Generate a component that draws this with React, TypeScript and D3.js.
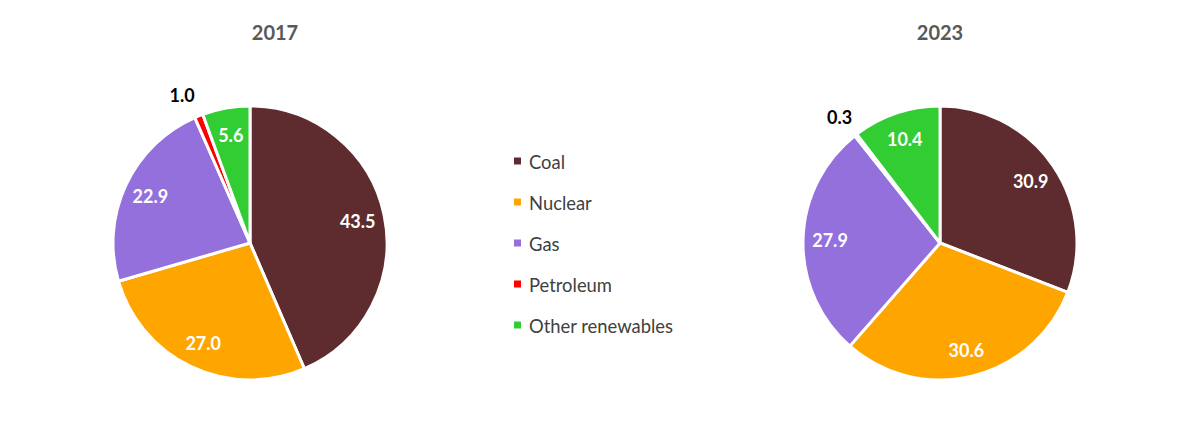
import React from "react";
import * as d3 from "d3";

const categories = ["Coal", "Nuclear", "Gas", "Petroleum", "Other renewables"];
const colors = ["#5E2C2E", "#FFA500", "#9370DB", "#FF0000", "#32CD32"];
const years = ["2017", "2023"];
const values2017 = [43.5, 27.0, 22.9, 1.0, 5.6];
const values2023 = [30.9, 30.6, 27.9, 0.3, 10.4];
const outsideLabels = [3]; // petroleum label placed outside

const W = 1200;
const H = 437;
const R = 137;
const FONT = "Lato, 'Open Sans', sans-serif";

function Pie({ cx, cy, values, title, titleX, outDx }: { cx: number; cy: number; values: number[]; title: string; titleX: number; outDx: number }) {
  const pie = d3.pie<number>().sort(null).value((d) => d);
  const arcs = pie(values);
  const arc = d3.arc<d3.PieArcDatum<number>>().innerRadius(0).outerRadius(R);
  const labelArc = d3.arc<d3.PieArcDatum<number>>().innerRadius(110).outerRadius(110);
  const outArc = d3.arc<d3.PieArcDatum<number>>().innerRadius(160).outerRadius(160);
  return (
    <g>
      <text x={titleX} y={32} textAnchor="middle" dominantBaseline="central"
        fontFamily={FONT} fontWeight="bold" fontSize={20} fill="#595959">{title}</text>
      <g transform={`translate(${cx},${cy})`}>
        {arcs.map((a, i) => (
          <path key={i} d={arc(a) || ""} fill={colors[i]} stroke="#fff" strokeWidth={3} strokeLinejoin="round" />
        ))}
        {arcs.map((a, i) => {
          const outside = outsideLabels.includes(i);
          const [x, y] = outside ? outArc.centroid(a) : labelArc.centroid(a);
          return (
            <text key={"l" + i} x={outside ? x + outDx : x} y={y} textAnchor="middle" dominantBaseline="central"
              fontFamily={FONT} fontWeight="bold" fontSize={18} fill={outside ? "#000" : "#fff"}>
              {values[i].toFixed(1)}
            </text>
          );
        })}
      </g>
    </g>
  );
}

export default function App() {
  const legendY = d3.scalePoint<string>().domain(categories).range([161, 325]);
  return (
    <svg width={W} height={H} style={{ position: "absolute", left: 0, top: 0, background: "#fff" }}>
      <rect width={W} height={H} fill="#fff" />
      <Pie cx={250} cy={243} values={values2017} title={years[0]} titleX={275} outDx={-8} />
      <Pie cx={940} cy={243} values={values2023} title={years[1]} titleX={940} outDx={-2} />
      {categories.map((c, i) => (
        <g key={c} transform={`translate(514,${legendY(c)})`}>
          <rect x={0} y={-3.5} width={7} height={7} fill={colors[i]} />
          <text x={15} y={1} dominantBaseline="central" fontFamily={FONT} fontSize={18.4} fill="#404040">{c}</text>
        </g>
      ))}
    </svg>
  );
}
